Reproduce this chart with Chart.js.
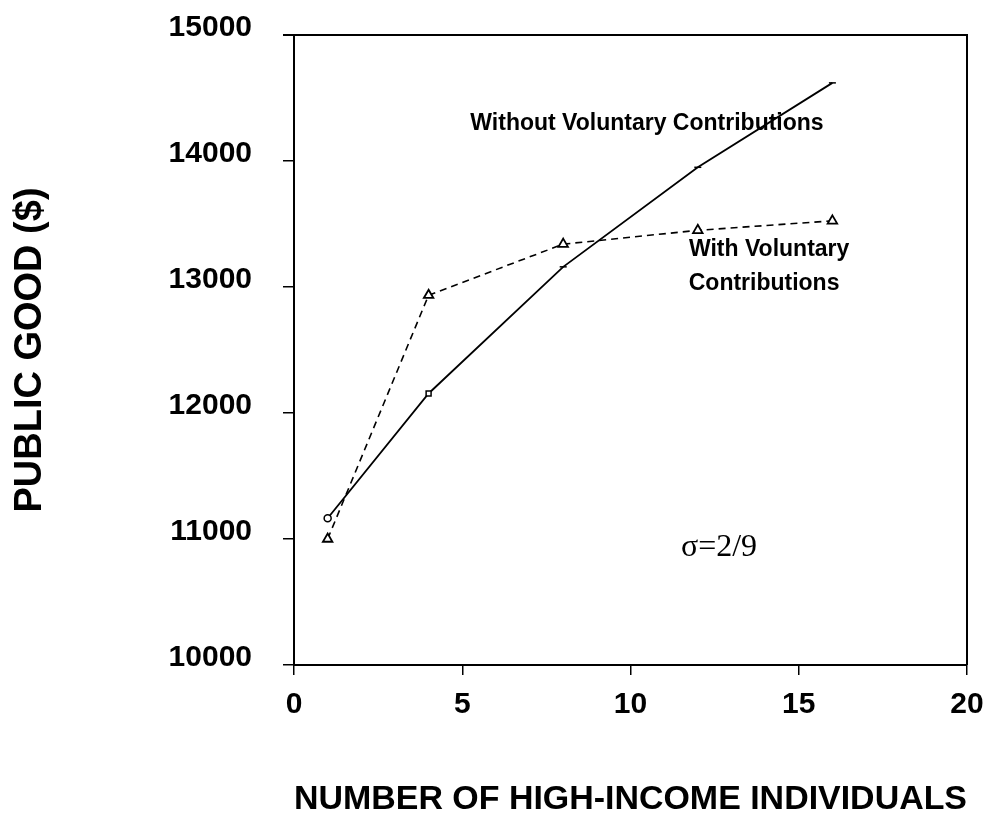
<!DOCTYPE html>
<html>
<head>
<meta charset="utf-8">
<script src="https://cdn.jsdelivr.net/npm/chart.js@4/dist/chart.umd.min.js"></script>
<style>
  html, body { margin: 0; padding: 0; background: #fff; }
  #wrap { width: 983px; height: 820px; }
</style>
</head>
<body>
<div id="wrap"><canvas id="grafico" width="983" height="820"></canvas></div>
<script>
// Datos
const individuos = [1, 4, 8, 12, 16];
const sinContribuciones = [11165, 12155, 13160, 13950, 14620];
const conContribuciones = [11000, 12935, 13340, 13450, 13525];
const marcasSin = ['circle', 'rect', 'line', 'line', 'line'];
const ticksX = [0, 5, 10, 15, 20];
const ticksY = [10000, 11000, 12000, 13000, 14000, 15000];

const fuenteEtiqueta = 'bold 23px Arial, "Liberation Sans", sans-serif';

// Anotaciones de texto (en coordenadas de datos)
const anotaciones = [
    { texto: 'Without Voluntary Contributions', x: 10.49, y: 14300, font: fuenteEtiqueta },
    { texto: 'With Voluntary', x: 14.12, y: 13294, font: fuenteEtiqueta },
    { texto: 'Contributions', x: 13.97, y: 13024, font: fuenteEtiqueta },
    { texto: 'σ=2/9', x: 12.63, y: 10929, font: '32px "Times New Roman", "Liberation Serif", serif' }
];

function aPuntos(xs, ys) {
    return xs.map((x, i) => ({ x: x, y: ys[i] }));
}

// Marco superior y derecho + textos
const pluginMarco = {
    id: 'marco',
    afterDatasetsDraw(chart) {
        const { ctx, chartArea, scales } = chart;
        ctx.save();
        ctx.strokeStyle = '#000';
        ctx.lineWidth = 2;
        ctx.beginPath();
        ctx.moveTo(chartArea.left - 11, chartArea.top);
        ctx.lineTo(chartArea.right, chartArea.top);
        ctx.lineTo(chartArea.right, chartArea.bottom);
        ctx.stroke();

        ctx.fillStyle = '#000';
        ctx.textAlign = 'center';
        ctx.textBaseline = 'middle';
        anotaciones.forEach(a => {
            ctx.font = a.font;
            ctx.fillText(a.texto, scales.x.getPixelForValue(a.x), scales.y.getPixelForValue(a.y));
        });
        ctx.restore();
    }
};

const familia = 'Arial, "Liberation Sans", sans-serif';

new Chart(document.getElementById('grafico'), {
    type: 'line',
    data: {
        datasets: [
            {
                label: 'Without Voluntary Contributions',
                data: aPuntos(individuos, sinContribuciones),
                borderColor: '#000',
                backgroundColor: '#fff',
                borderWidth: 1.8,
                pointStyle: marcasSin,
                pointRadius: 3.5,
                pointBorderWidth: 1.5,
                pointBorderColor: '#000',
                tension: 0
            },
            {
                label: 'With Voluntary Contributions',
                data: aPuntos(individuos, conContribuciones),
                borderColor: '#000',
                backgroundColor: '#fff',
                borderWidth: 1.6,
                borderDash: [7, 5],
                pointStyle: 'triangle',
                pointRadius: 5.5,
                pointBorderWidth: 1.8,
                pointBorderColor: '#000',
                tension: 0
            }
        ]
    },
    options: {
        responsive: false,
        animation: false,
        layout: { padding: { top: 35, right: 16, left: 0, bottom: 0 } },
        plugins: {
            legend: { display: false },
            tooltip: { enabled: false }
        },
        scales: {
            x: {
                type: 'linear',
                min: 0,
                max: 20,
                afterBuildTicks: s => { s.ticks = ticksX.map(v => ({ value: v })); },
                afterFit: s => { s.height = 155; s.paddingLeft = 0; s.paddingRight = 0; },
                border: { display: true, color: '#000', width: 2 },
                grid: { display: true, drawOnChartArea: false, color: '#000', lineWidth: 1.5, tickLength: 10 },
                ticks: { color: '#000', font: { family: familia, size: 30, weight: 'bold' }, padding: 12, maxRotation: 0 },
                title: {
                    display: true,
                    text: 'NUMBER OF HIGH-INCOME INDIVIDUALS',
                    color: '#000',
                    font: { family: familia, size: 34, weight: 'bold' },
                    padding: { top: 0, bottom: 0 }
                }
            },
            y: {
                type: 'linear',
                min: 10000,
                max: 15000,
                afterBuildTicks: s => { s.ticks = ticksY.map(v => ({ value: v })); },
                afterFit: s => { s.width = 294; s.paddingTop = 0; s.paddingBottom = 0; },
                border: { display: true, color: '#000', width: 2 },
                grid: { display: true, drawOnChartArea: false, color: '#000', lineWidth: 1.5, tickLength: 11 },
                ticks: {
                    color: '#000',
                    font: { family: familia, size: 30, weight: 'bold', lineHeight: 0.47 },
                    padding: 31,
                    // segunda línea vacía para subir un poco la etiqueta
                    callback: v => [String(v), '']
                },
                title: {
                    display: true,
                    text: 'PUBLIC GOOD ($)',
                    color: '#000',
                    font: { family: familia, size: 38, weight: 'bold' },
                    padding: { top: 8, bottom: 0 }
                }
            }
        }
    },
    plugins: [pluginMarco]
});
</script>
</body>
</html>
